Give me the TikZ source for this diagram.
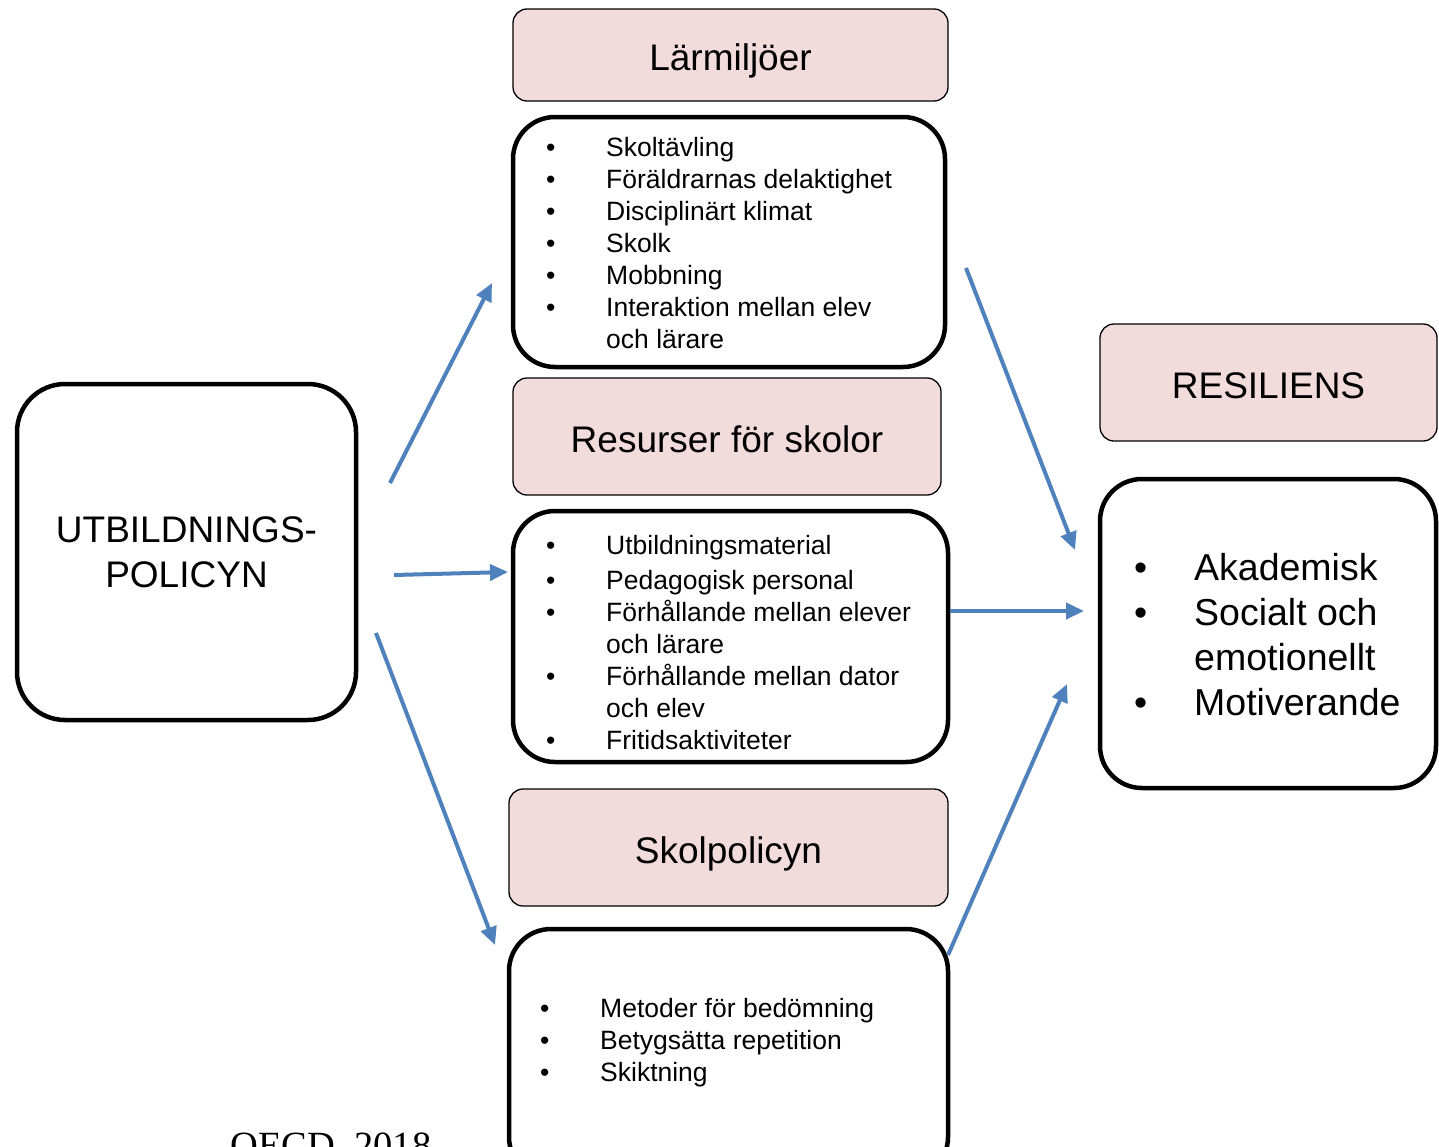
\documentclass[tikz,border=0pt]{standalone}
\usepackage{fontspec}
\setmainfont{Liberation Sans}
\newfontfamily\refserif{Liberation Serif}
\usetikzlibrary{arrows.meta,positioning}
\definecolor{hdrpink}{RGB}{242,220,219}
\definecolor{arrowblue}{RGB}{79,129,189}
\newcommand{\blt}[1]{\makebox[60pt][l]{\textbullet}#1}
\newcommand{\bltcont}[1]{\hspace*{60pt}#1}

\begin{document}
\begin{tikzpicture}[x=1pt,y=-1pt,
  hdr/.style={draw=black,line width=1.3pt,fill=hdrpink,rounded corners=14pt,
    inner sep=0pt,text height=36pt,text depth=5pt,font=\fontsize{37}{44}\selectfont},
  panel/.style={draw=black,line width=4.5pt,fill=white,rounded corners=42pt,inner sep=0pt},
  lst/.style={anchor=north west,align=left,inner sep=0pt,font=\fontsize{26.5}{32}\selectfont},
  flow/.style={arrowblue,line width=4pt,-{Triangle[length=18pt,width=16pt]}}]

%% ── page ─────────────────────────────────────────────────────────────────────
\clip (0,0) rectangle (1439,1146);
\fill[white] (0,0) rectangle (1439,1146);

%% ── left: policy box ────────────────────────────────────────────────────────
\node[panel,rounded corners=48pt,minimum width=339pt,minimum height=336pt,align=center,
  font=\fontsize{37}{45}\selectfont] (policy) at (186.5,552)
  {UTBILDNINGS-\\POLICYN};

%% ── middle column: headers ──────────────────────────────────────────────────
\node[hdr,minimum width=435pt,minimum height=92pt] (hdrEnv) at (730.5,55) {Lärmiljöer};
\node[hdr,minimum width=428pt,minimum height=117pt] (hdrRes) at (727,436.5) {Resurser för skolor};
\node[hdr,minimum width=439pt,minimum height=117pt] (hdrPol) at (728.5,847.5) {Skolpolicyn};

%% ── middle column: content panels ───────────────────────────────────────────
\node[panel,minimum width=432pt,minimum height=250pt] (envBox) at (729,242) {};
\node[panel,minimum width=435pt,minimum height=251pt] (resBox) at (730.5,636.5) {};
\node[panel,minimum width=439pt,minimum height=250pt] (polBox) at (728.5,1054) {};

\node[lst] (envList) at (546,137)
  {\blt{Skoltävling}\\
   \blt{Föräldrarnas delaktighet}\\
   \blt{Disciplinärt klimat}\\
   \blt{Skolk}\\
   \blt{Mobbning}\\
   \blt{Interaktion mellan elev}\\
   \bltcont{och lärare}};

\node[lst] (resList) at (546,535)
  {\blt{Utbildningsmaterial}\\[3pt]
   \blt{Pedagogisk personal}\\
   \blt{Förhållande mellan elever}\\
   \bltcont{och lärare}\\
   \blt{Förhållande mellan dator}\\
   \bltcont{och elev}\\
   \blt{Fritidsaktiviteter}};

\node[lst] (polList) at (540,998)
  {\blt{Metoder för bedömning}\\
   \blt{Betygsätta repetition}\\
   \blt{Skiktning}};

%% ── right: outcome ──────────────────────────────────────────────────────────
\node[hdr,minimum width=337pt,minimum height=117pt] (hdrOut) at (1268.5,382.5) {RESILIENS};
\node[panel,minimum width=336pt,minimum height=309pt] (outBox) at (1268,633.5) {};
\node[lst,font=\fontsize{37.5}{45}\selectfont] (outList) at (1134,553)
  {\blt{Akademisk}\\
   \blt{Socialt och}\\
   \bltcont{emotionellt}\\
   \blt{Motiverande}};

%% ── arrows ──────────────────────────────────────────────────────────────────
\coordinate (polA) at (390,483);  \coordinate (envIn)  at (492,283);
\coordinate (polB) at (394,575);  \coordinate (resIn)  at (508,572);
\coordinate (polC) at (376,633);  \coordinate (polIn)  at (495,945);
\coordinate (envOut) at (966,268); \coordinate (outA) at (1075,550);
\coordinate (resOut) at (950,611); \coordinate (outB) at (1084,611);
\coordinate (polOut) at (948,955); \coordinate (outC) at (1067,684);

\draw[flow] (polA) -- (envIn);
\draw[flow] (polB) -- (resIn);
\draw[flow] (polC) -- (polIn);
\draw[flow] (envOut) -- (outA);
\draw[flow] (resOut) -- (outB);
\draw[flow] (polOut) -- (outC);

%% ── source ──────────────────────────────────────────────────────────────────
\node[anchor=base west,inner sep=0pt,font=\refserif\fontsize{38.5}{44}\selectfont]
  (source) at (230,1158) {OECD, 2018};

\end{tikzpicture}
\end{document}
